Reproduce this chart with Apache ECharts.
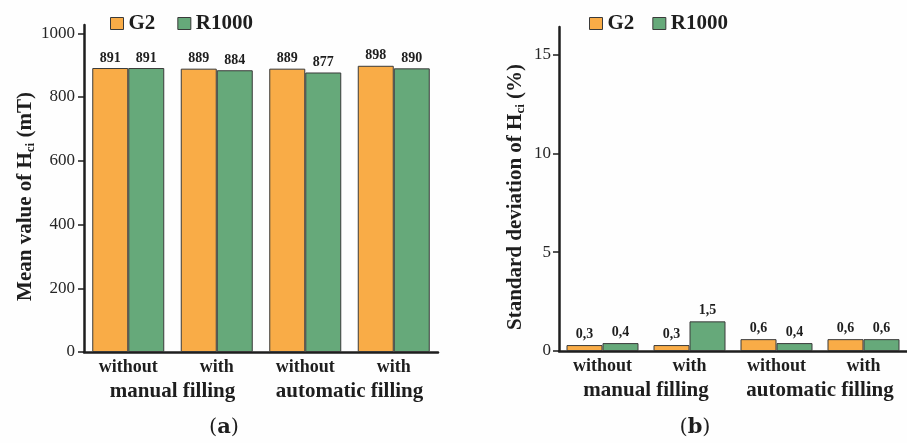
<!DOCTYPE html>
<html>
<head>
<meta charset="utf-8">
<script src="https://cdn.jsdelivr.net/npm/echarts@6/dist/echarts.min.js"></script>
<style>
  html, body { margin: 0; padding: 0; background: #fefefe; }
  #chart { width: 907px; height: 443px; }
</style>
</head>
<body>
<div id="chart"></div>
<script>
const subCategories = ['without', 'with', 'without', 'with'];
const groupCategories = ['manual filling', 'automatic filling'];
const seriesNames = ['G2', 'R1000'];
const meanG2 = [891, 889, 889, 898];
const meanR1000 = [891, 884, 877, 890];
const sdG2 = [0.3, 0.3, 0.6, 0.6];
const sdR1000 = [0.4, 1.5, 0.4, 0.6];
const meanTicks = [0, 200, 400, 600, 800, 1000];
const sdTicks = [0, 5, 10, 15];

const ORANGE = '#F9AC47';
const GREEN = '#66A97A';
const INK = '#1e1e1e';
const SERIF = '"Liberation Serif", "Times New Roman", serif';

let chart = echarts.init(document.getElementById('chart'));

function valueAxis(gridIndex, max, interval, ticks, name, gap, margin) {
    return {
        type: 'value',
        gridIndex: gridIndex,
        min: 0,
        max: max,
        interval: interval,
        name: name,
        nameLocation: 'middle',
        nameGap: gap,
        nameTextStyle: {
            fontFamily: SERIF,
            fontWeight: 'bold',
            fontSize: 21,
            color: INK,
            padding: [0, 16, 0, 0],
            rich: {
                m: { fontFamily: SERIF, fontWeight: 'bold', fontSize: 21, color: INK },
                sub: { fontFamily: SERIF, fontWeight: 'bold', fontSize: 13, color: INK, padding: [10, 0, 0, 0] }
            }
        },
        splitLine: { show: false },
        axisLine: { show: true, lineStyle: { color: INK, width: 2.5 } },
        axisTick: { show: true, inside: false, length: 6, customValues: ticks, lineStyle: { color: INK, width: 1.5 } },
        axisLabel: {
            customValues: ticks,
            margin: margin,
            fontFamily: SERIF,
            fontSize: 17,
            color: '#262626',
            formatter: (v) => ticks.indexOf(v) >= 0 ? String(v) : ''
        }
    };
}

function subAxis(gridIndex) {
    return {
        type: 'category',
        gridIndex: gridIndex,
        data: subCategories,
        axisLine: { show: true, lineStyle: { color: INK, width: 2.5 } },
        axisTick: { show: false },
        axisLabel: { interval: 0, margin: 6, fontFamily: SERIF, fontWeight: 'bold', fontSize: 18, color: INK }
    };
}

function groupAxis(gridIndex) {
    return {
        type: 'category',
        gridIndex: gridIndex,
        position: 'bottom',
        offset: 24,
        data: groupCategories,
        axisLine: { show: false },
        axisTick: { show: false },
        axisLabel: { interval: 0, margin: 5, fontFamily: SERIF, fontWeight: 'bold', fontSize: 21, color: INK }
    };
}

function barSeries(name, color, data, xIdx, yIdx, comma) {
    return {
        name: name,
        type: 'bar',
        xAxisIndex: xIdx,
        yAxisIndex: yIdx,
        barWidth: 36,
        barGap: '0%',
        itemStyle: { color: color, borderColor: '#3a3a3a', borderWidth: 1 },
        label: {
            show: true,
            position: 'top',
            distance: comma ? 4 : 3,
            fontFamily: SERIF,
            fontWeight: 'bold',
            fontSize: 14,
            color: INK,
            formatter: (p) => comma ? String(p.value).replace('.', ',') : String(p.value)
        },
        data: data
    };
}

function legendAt(left, gap) {
    return {
        left: left,
        top: 8,
        orient: 'horizontal',
        itemWidth: 13,
        itemHeight: 12,
        itemGap: gap,
        icon: 'rect',
        data: seriesNames,
        itemStyle: { borderColor: '#3a3a3a', borderWidth: 1 },
        textStyle: { fontFamily: SERIF, fontWeight: 'bold', fontSize: 21, color: INK }
    };
}

let option = {
    backgroundColor: '#fefefe',
    animation: false,
    legend: [legendAt(105, 22), legendAt(584, 18)],
    grid: [
        { left: 84, top: 25, width: 354, bottom: 91 },
        { left: 559, top: 27, width: 354, bottom: 92 }
    ],
    xAxis: [subAxis(0), groupAxis(0), subAxis(1), groupAxis(1)],
    yAxis: [
        valueAxis(0, 1026, 200, meanTicks, '{m|Mean value of H}{sub|ci}{m| (mT)}', 47, 9),
        valueAxis(1, 16.4, 5, sdTicks, '{m|Standard deviation of H}{sub|ci}{m| (%)}', 32, 8)
    ],
    series: [
        barSeries(seriesNames[0], ORANGE, meanG2, 0, 0, false),
        barSeries(seriesNames[1], GREEN, meanR1000, 0, 0, false),
        barSeries(seriesNames[0], ORANGE, sdG2, 2, 1, true),
        barSeries(seriesNames[1], GREEN, sdR1000, 2, 1, true)
    ],
    graphic: [
        {
            type: 'text', x: 224, y: 428,
            style: {
                text: '{n|(}{b|a}{n|)}', textAlign: 'center', textVerticalAlign: 'middle',
                rich: {
                    n: { fontFamily: '"DejaVu Serif", serif', fontSize: 21, fill: INK },
                    b: { fontFamily: '"DejaVu Serif", serif', fontSize: 21, fontWeight: 'bold', fill: INK }
                }
            }
        },
        {
            type: 'text', x: 695, y: 428,
            style: {
                text: '{n|(}{b|b}{n|)}', textAlign: 'center', textVerticalAlign: 'middle',
                rich: {
                    n: { fontFamily: '"DejaVu Serif", serif', fontSize: 21, fill: INK },
                    b: { fontFamily: '"DejaVu Serif", serif', fontSize: 21, fontWeight: 'bold', fill: INK }
                }
            }
        }
    ]
};

chart.setOption(option);
window.addEventListener('resize', () => chart && chart.resize());
</script>
</body>
</html>
